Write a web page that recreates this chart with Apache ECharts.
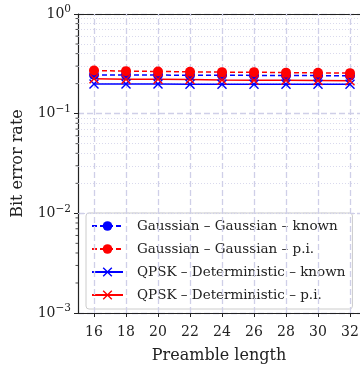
<!DOCTYPE html>
<html lang="en">
<head>
    <meta charset="UTF-8">
    <title>BER vs preamble length</title>
    <script src="https://cdn.jsdelivr.net/npm/echarts@6/dist/echarts.min.js"></script>
    <style>
        html, body { margin: 0; padding: 0; background: #fff; }
        #main { width: 360px; height: 365px; }
    </style>
</head>
<body>
<div id="main"></div>
<script>
    var preamble = [16, 18, 20, 22, 24, 26, 28, 30, 32];
    var gaussKnown = [0.245, 0.245, 0.244, 0.243, 0.243, 0.242, 0.241, 0.241, 0.240];
    var gaussPi = [0.271, 0.267, 0.265, 0.263, 0.261, 0.261, 0.258, 0.257, 0.255];
    var qpskKnown = [0.198, 0.198, 0.198, 0.197, 0.197, 0.197, 0.197, 0.197, 0.197];
    var qpskPi = [0.224, 0.222, 0.221, 0.220, 0.218, 0.217, 0.216, 0.215, 0.214];
    var names = ['Gaussian – Gaussian – known', 'Gaussian – Gaussian – p.i.',
        'QPSK – Deterministic – known', 'QPSK – Deterministic – p.i.'];
    var xTicks = [16, 18, 20, 22, 24, 26, 28, 30, 32];
    var minorY = [];
    [0.001, 0.01, 0.1].forEach(function (d) {
        for (var k = 2; k <= 9; k++) minorY.push(+(d * k).toPrecision(3));
    });

    var font = 'DejaVu Serif, Liberation Serif, serif';
    var crossPath = 'path://M0,1L1,0L5,4L9,0L10,1L6,5L10,9L9,10L5,6L1,10L0,9L4,5Z';
    var grid = '#cfcfe8';
    var ink = '#222';

    function pts(vals) {
        return preamble.map(function (x, i) { return [x, vals[i]]; });
    }
    function mk(name, vals, color, dashed, symbol) {
        return {
            name: name, type: 'line', data: pts(vals),
            symbol: symbol, symbolSize: 10,
            lineStyle: { color: color, width: 1.5, type: dashed ? [5, 3] : 'solid' },
            itemStyle: { color: color },
            z: 5
        };
    }

    var series = [
        mk(names[0], gaussKnown, '#0000ff', true, 'circle'),
        mk(names[1], gaussPi, '#ff0000', true, 'circle'),
        mk(names[2], qpskKnown, '#0000ff', false, crossPath),
        mk(names[3], qpskPi, '#ff0000', false, crossPath)
    ];
    // gridlines drawn as mark lines
    series.push({
        type: 'line', data: [], silent: true, z: 1,
        markLine: {
            silent: true, symbol: 'none', label: { show: false },
            animation: false,
            data: xTicks.map(function (v) {
                return { xAxis: v, lineStyle: { color: grid, type: [6, 3], width: 1.3 } };
            }).concat(minorY.map(function (v) {
                return { yAxis: v, lineStyle: { color: grid, type: [1, 2], width: 0.8 } };
            }))
        }
    });
    // minor ticks on the log axis (outward)
    series.push({
        type: 'custom', silent: true, z: 6, clip: false,
        data: minorY.map(function (v) { return [preamble[0], v]; }),
        encode: { x: 0, y: 1 },
        renderItem: function (params, api) {
            var p = api.coord([api.value(0), api.value(1)]);
            var x0 = params.coordSys.x;
            return {
                type: 'line',
                shape: { x1: x0 - 2.5, y1: p[1], x2: x0, y2: p[1] },
                style: { stroke: ink, lineWidth: 0.8 }
            };
        }
    });

    var chart = echarts.init(document.getElementById('main'));
    chart.setOption({
        animation: false,
        grid: { left: 78, top: 14, right: 0, bottom: 52, outerBoundsMode: 'none', containLabel: false },
        legend: {
            data: names, orient: 'vertical', left: 86, top: 213,
            itemWidth: 31, itemHeight: 12, itemGap: 9,
            padding: [6, 7, 7, 5],
            borderColor: '#cccccc', borderWidth: 1, borderRadius: 3,
            backgroundColor: 'rgba(255,255,255,0.85)',
            textStyle: { fontFamily: font, fontSize: 13.5, color: ink, padding: [0, 0, 0, 9] }
        },
        xAxis: [{
            type: 'value', min: 15, max: 32.625,
            name: 'Preamble length', nameLocation: 'middle', nameGap: 35,
            nameTextStyle: { fontFamily: font, fontSize: 16, color: ink },
            axisLine: { lineStyle: { color: ink, width: 1.2 } },
            axisTick: { show: true, length: 4, customValues: xTicks, lineStyle: { color: ink } },
            axisLabel: { customValues: xTicks, fontFamily: font, fontSize: 14, color: ink, margin: 12 },
            splitLine: { show: false }
        }, {
            type: 'value', min: 15, max: 32.625, position: 'top',
            axisLine: { show: true, lineStyle: { color: ink, width: 1.2 } },
            axisTick: { show: false }, axisLabel: { show: false }, splitLine: { show: false }
        }],
        yAxis: {
            type: 'log', min: 0.001, max: 1, logBase: 10,
            name: 'Bit error rate', nameLocation: 'middle', nameGap: 52,
            nameTextStyle: { fontFamily: font, fontSize: 16, color: ink },
            axisLine: { show: true, lineStyle: { color: ink, width: 1.2 } },
            axisTick: { show: true, length: 4, lineStyle: { color: ink } },
            splitLine: { show: true, lineStyle: { color: grid, type: [6, 3], width: 1.3 } },
            axisLabel: {
                margin: 7, color: ink,
                formatter: function (v) {
                    var e = Math.round(Math.log10(v));
                    return '{b|10}{s|' + (e < 0 ? '−' + (-e) : e) + '}';
                },
                rich: {
                    b: { fontFamily: font, fontSize: 14, color: ink },
                    s: { fontFamily: font, fontSize: 10.5, color: ink, padding: [0, 0, 9, 0] }
                }
            }
        },
        series: series
    });
</script>
</body>
</html>
